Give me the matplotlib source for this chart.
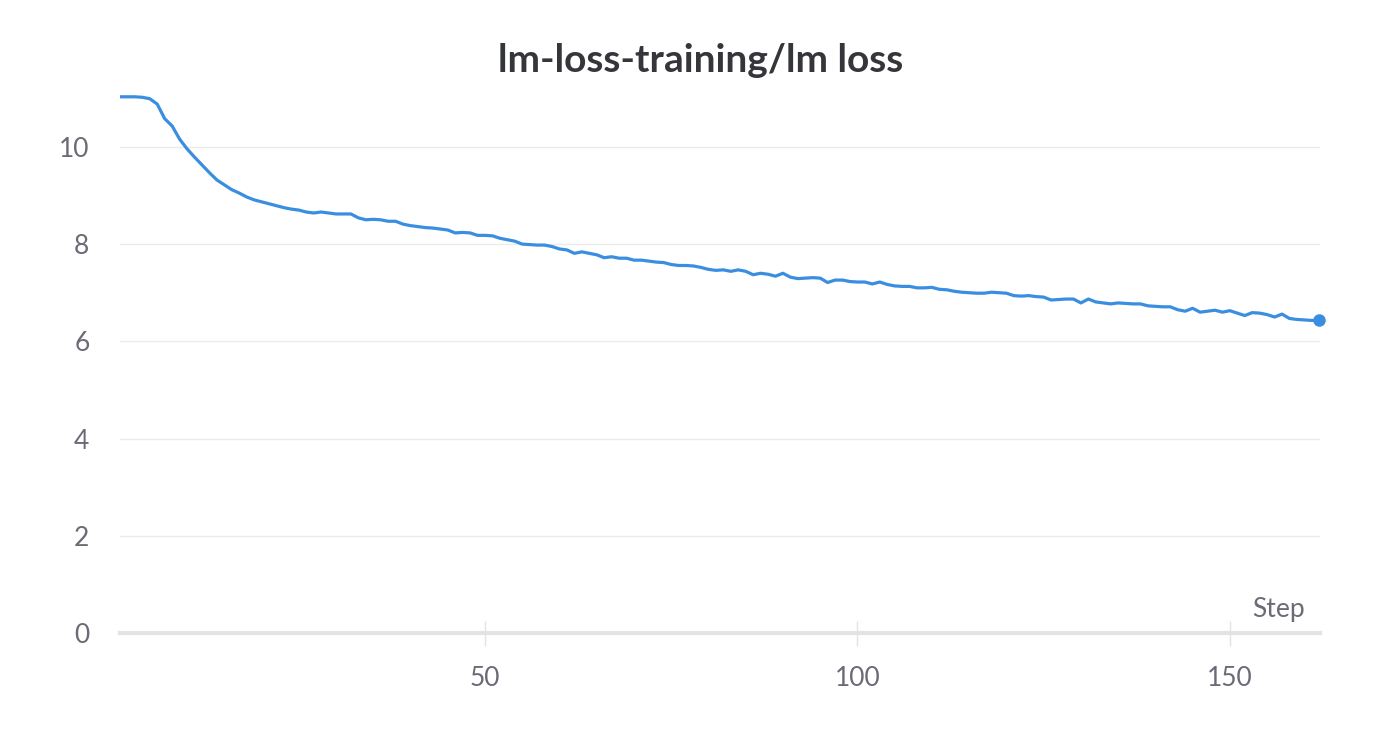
import matplotlib

matplotlib.use('Agg')
import numpy as np
import matplotlib.pyplot as plt

plt.rcParams['font.family'] = ['Lato', 'DejaVu Sans']

# training steps and lm loss values
steps = np.arange(1, 163)
loss = [
    11.03, 11.03, 11.03, 11.02, 10.99, 10.88, 10.58, 10.43, 10.16, 9.96,
    9.79, 9.63, 9.47, 9.32, 9.22, 9.12, 9.05, 8.97, 8.91, 8.87,
    8.83, 8.79, 8.75, 8.72, 8.70, 8.66, 8.64, 8.66, 8.64, 8.62,
    8.62, 8.62, 8.54, 8.50, 8.51, 8.50, 8.47, 8.47, 8.41, 8.38,
    8.36, 8.34, 8.33, 8.31, 8.29, 8.23, 8.24, 8.23, 8.18, 8.18,
    8.17, 8.12, 8.09, 8.06, 8.00, 7.99, 7.98, 7.98, 7.95, 7.90,
    7.88, 7.81, 7.84, 7.81, 7.78, 7.72, 7.74, 7.71, 7.71, 7.67,
    7.67, 7.65, 7.63, 7.62, 7.58, 7.56, 7.56, 7.55, 7.52, 7.48,
    7.46, 7.47, 7.44, 7.47, 7.44, 7.37, 7.40, 7.38, 7.34, 7.40,
    7.32, 7.29, 7.30, 7.31, 7.30, 7.21, 7.26, 7.26, 7.23, 7.22,
    7.22, 7.18, 7.22, 7.17, 7.14, 7.13, 7.13, 7.10, 7.10, 7.11,
    7.07, 7.06, 7.03, 7.01, 7.00, 6.99, 6.99, 7.01, 7.00, 6.99,
    6.94, 6.93, 6.94, 6.92, 6.91, 6.85, 6.86, 6.87, 6.87, 6.79,
    6.87, 6.81, 6.79, 6.77, 6.79, 6.78, 6.77, 6.77, 6.73, 6.72,
    6.71, 6.71, 6.65, 6.62, 6.68, 6.60, 6.62, 6.64, 6.60, 6.63,
    6.58, 6.53, 6.59, 6.58, 6.55, 6.50, 6.56, 6.47, 6.45, 6.44,
    6.43, 6.43,
]
yticks = [0, 2, 4, 6, 8, 10]
xticks = [50, 100, 150]

line_color = '#3a8ee0'
text_color = '#6b6b76'

fig = plt.figure(figsize=(14, 7.35), dpi=100)
ax = fig.add_axes([120 / 1400, 1 - 633 / 735, 1200 / 1400, 543 / 735])

ax.plot(steps, loss, color=line_color, lw=2.3, solid_joinstyle='round', zorder=3)
# marker on the last point, not clipped at the axes edge
ax.plot(steps[-1], loss[-1], 'o', color=line_color, ms=8, zorder=4, clip_on=False)

ax.set_xlim(1, 162.1)
ax.set_ylim(0, 11.17)

# horizontal grid
ax.set_yticks(yticks)
ax.grid(axis='y', color='#ebebeb', lw=1)
ax.set_axisbelow(True)
ax.tick_params(axis='y', length=0, pad=22, labelsize=19, labelcolor=text_color)

ax.set_xticks(xticks)
ax.tick_params(axis='x', direction='inout', length=18, width=1, color='#e3e3e3',
               pad=15, labelsize=19, labelcolor=text_color)

for side in ['top', 'right', 'left']:
    ax.spines[side].set_visible(False)
ax.spines['bottom'].set_color('#e3e3e3')
ax.spines['bottom'].set_linewidth(3)
ax.spines['bottom'].set_zorder(2)

ax.text(1305 / 1400, 1 - 610 / 735, 'Step', transform=fig.transFigure,
        ha='right', va='center', fontsize=19, color=text_color)

fig.suptitle('lm-loss-training/lm loss', x=701 / 1400, y=1 - 60 / 735,
             va='center', fontsize=28, fontweight='bold', color='#35353c')

fig.savefig('out.png', dpi=100, facecolor='white')
